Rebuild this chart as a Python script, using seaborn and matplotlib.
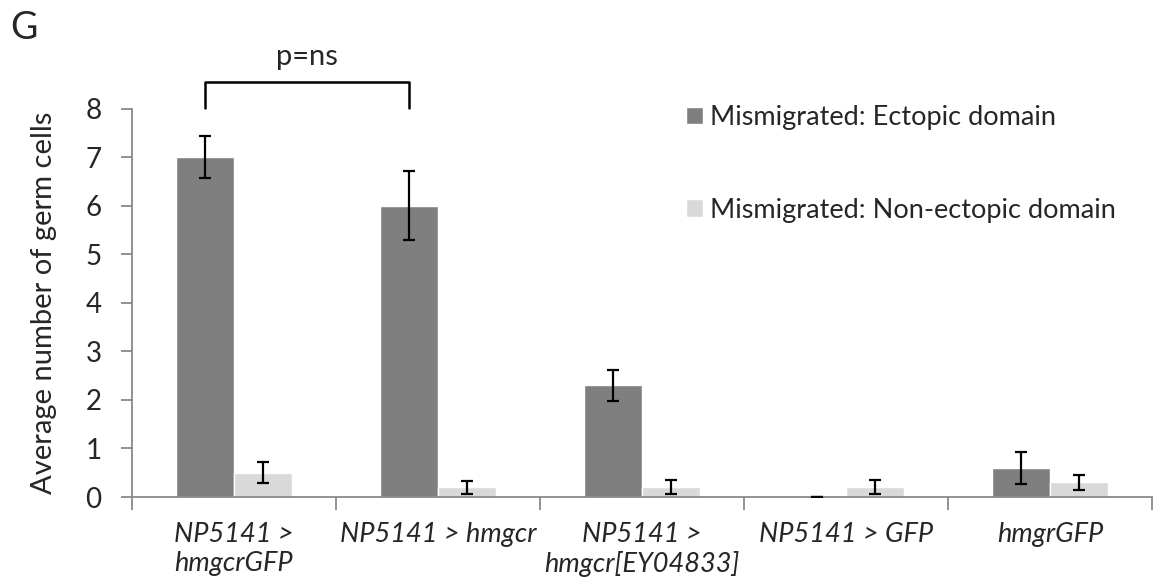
import numpy as np
import pandas as pd
import matplotlib
matplotlib.use("Agg")
import matplotlib.pyplot as plt
import seaborn as sns

categories = ["NP5141 >\nhmgcrGFP", "NP5141 > hmgcr", "NP5141 >\nhmgcr[EY04833]",
              "NP5141 > GFP", "hmgrGFP"]
series = ["Mismigrated: Ectopic domain", "Mismigrated: Non-ectopic domain"]
ectopic = [7.0, 6.0, 2.3, 0.0, 0.6]
ectopic_err = [0.43, 0.71, 0.32, 0.0, 0.33]
nonectopic = [0.5, 0.2, 0.2, 0.2, 0.3]
nonectopic_err = [0.22, 0.13, 0.14, 0.14, 0.15]
yticks = [0, 1, 2, 3, 4, 5, 6, 7, 8]
colors = ["#7f7f7f", "#d9d9d9"]

sns.set_style("white")
plt.rcParams['font.family'] = ['Lato', 'DejaVu Sans']

df = pd.DataFrame({
    "category": categories * 2,
    "series": [series[0]] * len(categories) + [series[1]] * len(categories),
    "value": ectopic + nonectopic,
})

fig = plt.figure(figsize=(11.62, 5.85), dpi=100)
ax = fig.add_axes([132 / 1162, 1 - 497 / 585, 1020 / 1162, (497 - 108.5) / 585])

sns.barplot(data=df, x="category", y="value", hue="series", order=categories,
            hue_order=series, palette=dict(zip(series, colors)), saturation=1,
            width=0.57, errorbar=None, ax=ax)

errs = [ectopic_err, nonectopic_err]
for cont, err in zip(ax.containers, errs):
    xs = [b.get_x() + b.get_width() / 2 for b in cont]
    hs = [b.get_height() for b in cont]
    ax.errorbar(xs, hs, yerr=err, fmt="none", ecolor="black", elinewidth=1.6,
                capsize=4.5, capthick=1.6, zorder=5)

ax.set_ylim(0, 8)
ax.set_xlim(-0.5, len(categories) - 0.5)
ax.set_yticks(yticks)
ax.set_yticklabels([str(t) for t in yticks], fontsize=20)
ax.set_xticks(np.arange(-0.5, len(categories), 1.0))
ax.set_xticklabels([])
ax.set_xticks(range(len(categories)), minor=True)
ax.set_xticklabels(categories, minor=True, fontsize=19.5, style="italic", linespacing=1.2)
ax.tick_params(axis="x", which="major", direction="out", length=9, width=1.3,
               color="#898989", bottom=True)
ax.tick_params(axis="x", which="minor", length=0, pad=18)
ax.tick_params(axis="y", direction="out", length=8, width=1.3, color="#898989",
               pad=14, left=True)
for s in ["top", "right"]:
    ax.spines[s].set_visible(False)
for s in ["left", "bottom"]:
    ax.spines[s].set_color("#898989")
    ax.spines[s].set_linewidth(1.3)

ax.set_xlabel("")
ax.set_ylabel("Average number of germ cells", fontsize=21)
ax.yaxis.set_label_coords(-0.0735, 0.5)

# significance bracket
x1 = ax.containers[0][0].get_x() + ax.containers[0][0].get_width() / 2
x2 = ax.containers[0][1].get_x() + ax.containers[0][1].get_width() / 2
ax.plot([x1, x1, x2, x2], [8.02, 8.54, 8.54, 8.02], color="black", lw=1.8,
        clip_on=False)
ax.text((x1 + x2) / 2, 9.06, "p=ns", ha="center", va="center", fontsize=21)

fig.text(10 / 1162, 1 - 28 / 585, "G", ha="left", va="center", fontsize=27)

sns.move_legend(ax, "upper left", bbox_to_anchor=(686 / 1162, 1 - 105 / 585),
                bbox_transform=fig.transFigure, frameon=False, title=None,
                fontsize=19.5, handlelength=0.63, handleheight=0.63,
                handletextpad=0.26, labelspacing=2.5, borderpad=0,
                borderaxespad=0)

fig.savefig("out.png", dpi=100)
